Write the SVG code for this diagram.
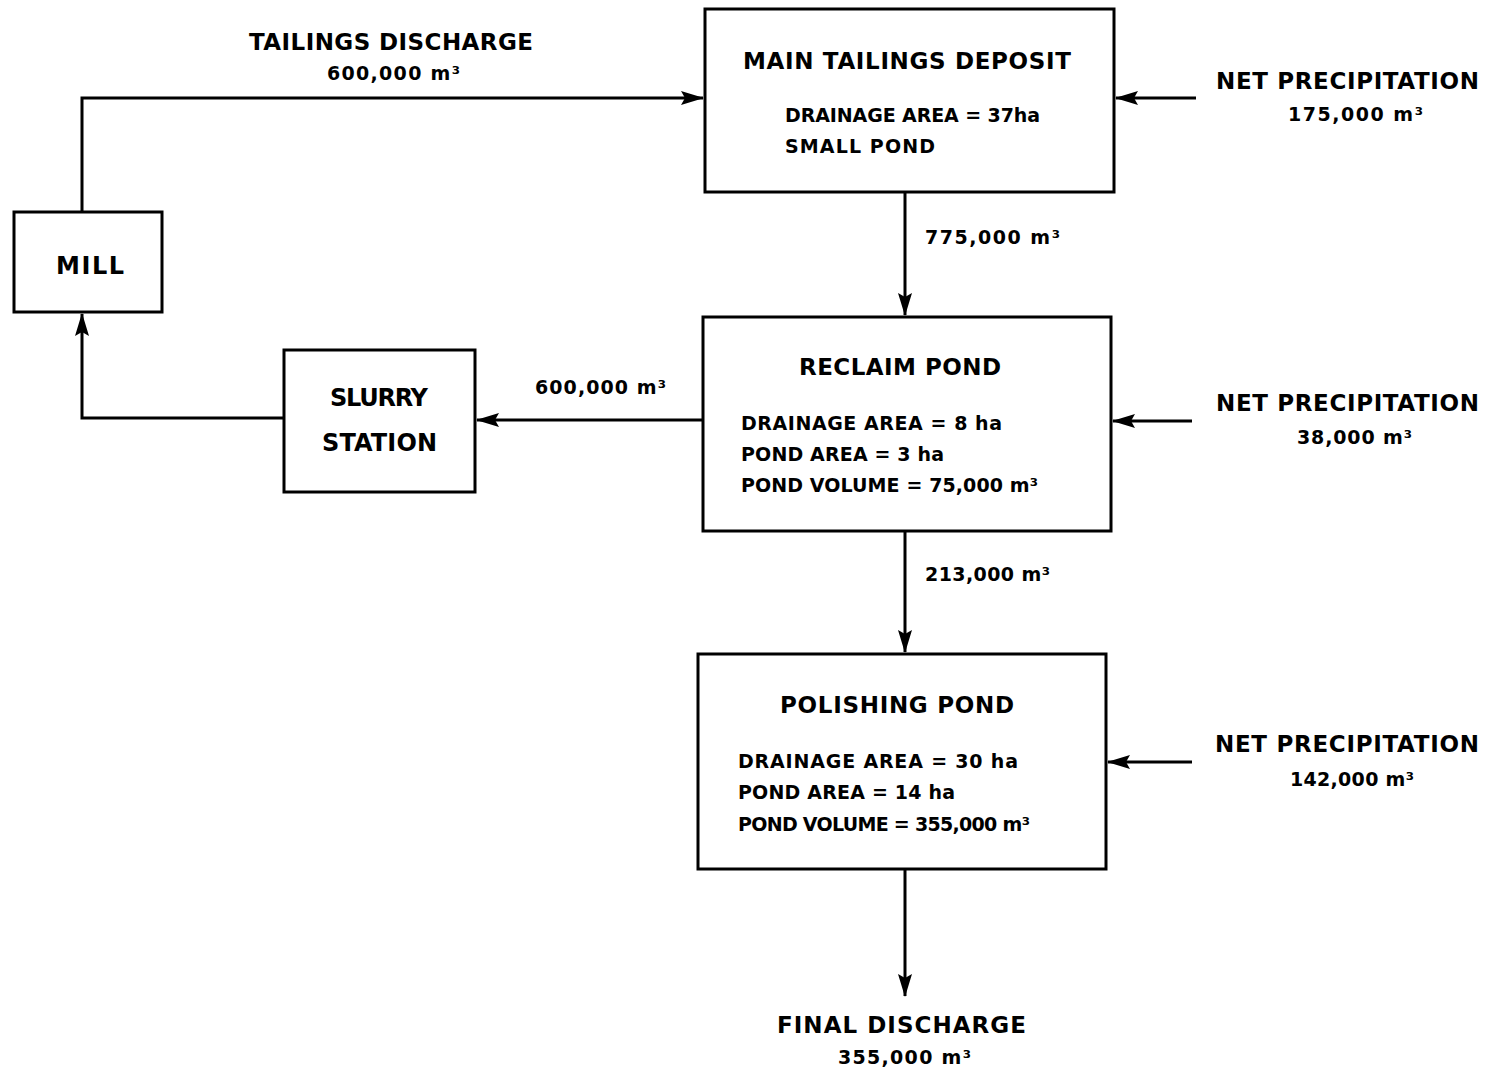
<svg xmlns="http://www.w3.org/2000/svg" width="1492" height="1070" viewBox="0 0 1492 1070">
<defs>
<marker id="ah" markerWidth="24" markerHeight="16" refX="22" refY="8" orient="auto" markerUnits="userSpaceOnUse" viewBox="0 0 24 16">
<path d="M0,1 L23,8 L0,15 L4,8 z" fill="#000"/>
</marker>
<style>
.box{fill:#fff;stroke:#000;stroke-width:3}
.ln{fill:none;stroke:#000;stroke-width:3}
text{font-family:"DejaVu Sans","Liberation Sans",Arial,sans-serif;font-weight:bold;fill:#000}
.t{font-size:23px}
.s{font-size:19px}
.b{font-size:24px}
.m{text-anchor:middle}
</style>
</defs>
<rect width="1492" height="1070" fill="#fff"/>
<g id="connectors">
<path class="ln" d="M82,212 V98 H703" marker-end="url(#ah)"/>
<path class="ln" d="M284,418 H82 V314" marker-end="url(#ah)"/>
<path class="ln" d="M703,420 H477" marker-end="url(#ah)"/>
<path class="ln" d="M905,192 V315" marker-end="url(#ah)"/>
<path class="ln" d="M905,531 V652" marker-end="url(#ah)"/>
<path class="ln" d="M905,869 V996" marker-end="url(#ah)"/>
<path class="ln" d="M1196,98 H1116" marker-end="url(#ah)"/>
<path class="ln" d="M1192,421 H1113" marker-end="url(#ah)"/>
<path class="ln" d="M1192,762 H1108" marker-end="url(#ah)"/>
</g>
<g id="main-tailings-deposit">
<rect class="box" x="705" y="9" width="409" height="183"/>
<text class="t" x="743" y="69" textLength="328">MAIN  TAILINGS  DEPOSIT</text>
<text class="s" x="785" y="122" textLength="255">DRAINAGE AREA = 37ha</text>
<text class="s" x="785" y="153" textLength="150">SMALL  POND</text>
</g>
<g id="reclaim-pond">
<rect class="box" x="703" y="317" width="408" height="214"/>
<text class="t" x="799" y="375" textLength="202">RECLAIM  POND</text>
<text class="s" x="741" y="430" textLength="261">DRAINAGE  AREA = 8 ha</text>
<text class="s" x="741" y="461" textLength="203">POND AREA = 3 ha</text>
<text class="s" x="741" y="492" textLength="297">POND VOLUME = 75,000 m³</text>
</g>
<g id="polishing-pond">
<rect class="box" x="698" y="654" width="408" height="215"/>
<text class="t" x="780" y="713" textLength="234">POLISHING  POND</text>
<text class="s" x="738" y="768" textLength="280">DRAINAGE  AREA = 30 ha</text>
<text class="s" x="738" y="799" textLength="217">POND AREA = 14 ha</text>
<text class="s" x="738" y="831" textLength="292">POND VOLUME = 355,000 m³</text>
</g>
<g id="mill">
<rect class="box" x="14" y="212" width="148" height="100"/>
<text class="b" x="56" y="274" textLength="68">MILL</text>
</g>
<g id="slurry-station">
<rect class="box" x="284" y="350" width="191" height="142"/>
<text class="b" x="330" y="406" textLength="98">SLURRY</text>
<text class="b" x="322" y="451" textLength="115">STATION</text>
</g>
<g id="labels">
<text class="t" x="249" y="50" textLength="284">TAILINGS DISCHARGE</text>
<text class="s" x="327" y="80" textLength="133">600,000 m³</text>
<text class="s" x="925" y="244" textLength="135">775,000 m³</text>
<text class="s" x="535" y="394" textLength="131">600,000 m³</text>
<text class="s" x="925" y="581" textLength="125">213,000 m³</text>
<text class="t" x="1216" y="89" textLength="263">NET PRECIPITATION</text>
<text class="s" x="1288" y="121" textLength="135">175,000 m³</text>
<text class="t" x="1216" y="411" textLength="263">NET PRECIPITATION</text>
<text class="s" x="1297" y="444" textLength="115">38,000 m³</text>
<text class="t" x="1215" y="752" textLength="264">NET PRECIPITATION</text>
<text class="s" x="1290" y="786" textLength="124">142,000 m³</text>
<text class="t" x="777" y="1033" textLength="249">FINAL  DISCHARGE</text>
<text class="s" x="838" y="1064" textLength="133">355,000 m³</text>
</g>
</svg>
